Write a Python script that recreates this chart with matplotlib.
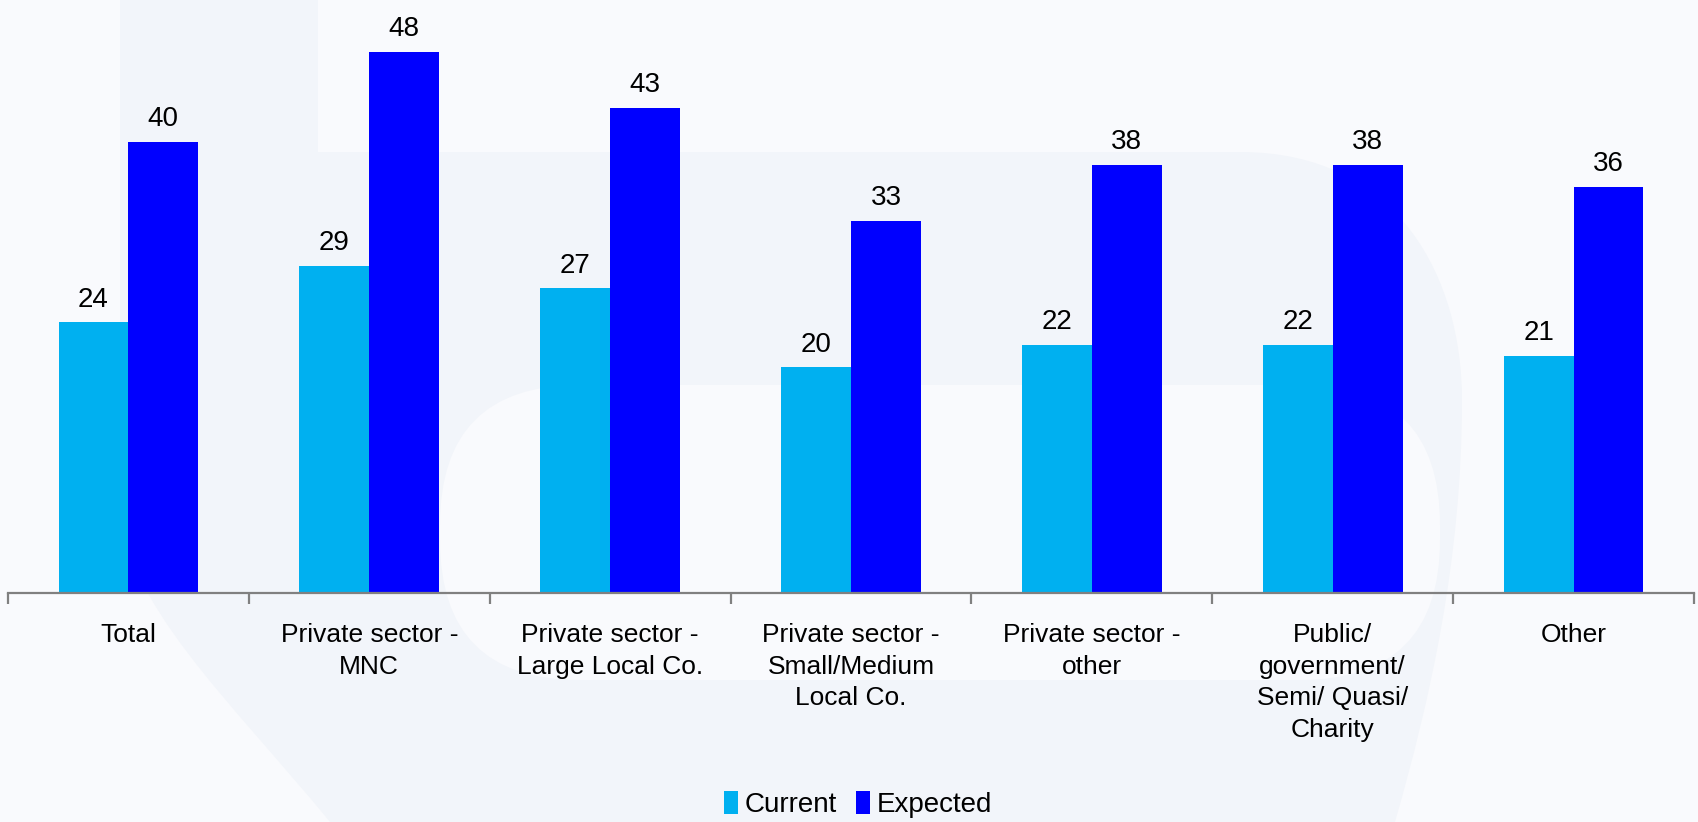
import matplotlib.pyplot as plt
import numpy as np
from matplotlib.patches import FancyBboxPatch, PathPatch
from matplotlib.path import Path

# ---------------------------------------------------------------------------
# data
# ---------------------------------------------------------------------------
categories = [
    "Total",
    "Private sector -\nMNC",
    "Private sector -\nLarge Local Co.",
    "Private sector -\nSmall/Medium\nLocal Co.",
    "Private sector -\nother",
    "Public/\ngovernment/\nSemi/ Quasi/\nCharity",
    "Other",
]
current = [24, 29, 27, 20, 22, 22, 21]
expected = [40, 48, 43, 33, 38, 38, 36]
series_names = ["Current", "Expected"]

C_CURRENT = "#00B0F0"
C_EXPECTED = "#0000FF"
BG = "#F9FAFD"
WATERMARK = "#F2F5FA"

plt.rcParams["font.family"] = ["Liberation Sans", "DejaVu Sans"]

W, H = 1699, 822
fig = plt.figure(figsize=(W / 100, H / 100), dpi=100, facecolor=BG)

# faint logo shape behind the chart, drawn in pixel coordinates
bg = fig.add_axes([0, 0, 1, 1], zorder=0)
bg.set_xlim(0, W)
bg.set_ylim(H, 0)
bg.axis("off")
verts = [
    (120, 0), (318, 0), (318, 152), (1240, 152),
    (1400, 152), (1462, 280), (1462, 400),
    (1462, 560), (1430, 700), (1395, 822),
    (330, 822),
    (230, 700), (120, 600), (120, 500),
    (120, 0),
]
codes = [
    Path.MOVETO, Path.LINETO, Path.LINETO, Path.LINETO,
    Path.CURVE4, Path.CURVE4, Path.CURVE4,
    Path.CURVE4, Path.CURVE4, Path.CURVE4,
    Path.LINETO,
    Path.CURVE4, Path.CURVE4, Path.CURVE4,
    Path.CLOSEPOLY,
]
bg.add_patch(PathPatch(Path(verts, codes), facecolor=WATERMARK, edgecolor="none"))
bg.add_patch(FancyBboxPatch((440, 385), 1000, 295,
                            boxstyle="round,pad=0,rounding_size=140",
                            facecolor=BG, edgecolor="none"))

# ---------------------------------------------------------------------------
# bars
# ---------------------------------------------------------------------------
ax = fig.add_axes([8 / W, 1 - 592.7 / H, 1686 / W, 592.7 / H], zorder=1)
ax.set_facecolor("none")

x = np.arange(len(categories))
bw = 0.29
b1 = ax.bar(x - bw / 2, current, bw, color=C_CURRENT, label=series_names[0], zorder=2)
b2 = ax.bar(x + bw / 2, expected, bw, color=C_EXPECTED, label=series_names[1], zorder=2)

for bars in (b1, b2):
    for rect in bars:
        h = rect.get_height()
        ax.annotate(f"{h:g}", (rect.get_x() + rect.get_width() / 2, h),
                    xytext=(0, 7), textcoords="offset points",
                    ha="center", va="bottom", fontsize=20, color="black")

ax.set_xlim(-0.5, len(categories) - 0.5)
ax.set_ylim(0, 52.6)

for side in ("top", "right", "left"):
    ax.spines[side].set_visible(False)
ax.spines["bottom"].set_color("#808080")
ax.spines["bottom"].set_linewidth(1.6)
ax.set_yticks([])

# category labels centred under each group, tick marks on the boundaries
ax.set_xticks(x)
ax.set_xticklabels(categories, fontsize=19, linespacing=1.4)
ax.tick_params(axis="x", which="major", length=0, pad=22)
ax.set_xticks(np.arange(-0.5, len(categories)), minor=True)
ax.tick_params(axis="x", which="minor", length=8, width=1.6, color="#808080")

fig.legend(handles=[b1, b2], labels=series_names, loc="center",
           bbox_to_anchor=(0.505, 0.021), ncol=2, frameon=False,
           fontsize=20, handlelength=0.5, handleheight=0.9,
           handletextpad=0.25, columnspacing=0.7)

fig.savefig("out.png", dpi=100, facecolor=BG)
